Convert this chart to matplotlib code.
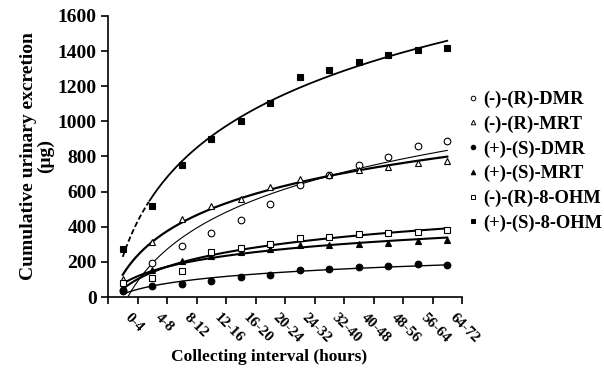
import numpy as np
import matplotlib
matplotlib.use("Agg")
import matplotlib.pyplot as plt
from matplotlib.lines import Line2D

plt.rcParams['font.family'] = ['Liberation Serif', 'DejaVu Serif']
plt.rcParams['font.weight'] = 'bold'

# collecting intervals (hours)
intervals = ['0-4', '4-8', '8-12', '12-16', '16-20', '20-24',
             '24-32', '32-40', '40-48', '48-56', '56-64', '64-72']

# cumulative urinary excretion (ug)
r_dmr = [40, 192, 292, 363, 438, 530, 638, 695, 751, 799, 862, 888]
r_mrt = [102, 315, 444, 516, 560, 626, 670, 695, 723, 742, 762, 775]
s_dmr = [35, 64, 74, 91, 114, 125, 154, 161, 171, 177, 187, 183]
s_mrt = [50, 154, 205, 235, 258, 271, 296, 298, 303, 310, 318, 322]
r_ohm = [78, 106, 150, 254, 280, 302, 334, 341, 356, 365, 371, 383]
s_ohm = [275, 520, 750, 900, 1000, 1105, 1250, 1295, 1340, 1378, 1406, 1420]

series = [
    ('(-)-(R)-DMR', r_dmr, 'o', 'white', 0.8),
    ('(-)-(R)-MRT', r_mrt, '^', 'white', 1.6),
    ('(+)-(S)-DMR', s_dmr, 'o', 'black', 1.0),
    ('(+)-(S)-MRT', s_mrt, '^', 'black', 1.5),
    ('(-)-(R)-8-OHM', r_ohm, 's', 'white', 1.5),
    ('(+)-(S)-8-OHM', s_ohm, 's', 'black', 1.3),
]

fig = plt.figure(figsize=(6.04, 3.77), dpi=100)
ax = fig.add_axes([108 / 604, 80 / 377, 354 / 604, 281 / 377])

x = np.arange(len(intervals))
idx = x + 1
nn = np.linspace(1, 12, 400)

handles = []
for name, vals, mk, fc, lw in series:
    vals = np.array(vals, dtype=float)
    # logarithmic trendline, like the spreadsheet one
    b, a = np.polyfit(np.log(idx), vals, 1)
    fit = a + b * np.log(nn)
    if name == '(+)-(S)-8-OHM':
        cut = nn <= 1.9
        ax.plot(nn[cut] - 1, fit[cut], color='black', lw=lw, ls=(0, (3, 1.5)))
        ax.plot(nn[~cut] - 1, fit[~cut], color='black', lw=lw)
    else:
        ax.plot(nn - 1, fit, color='black', lw=lw)
    ms = 5 if mk == 's' else 4.8
    ax.plot(x, vals, ls='none', marker=mk, ms=ms, mfc=fc, mec='black', mew=0.8)
    handles.append(Line2D([], [], ls='none', marker=mk, ms=3.3, mfc=fc,
                          mec='black', mew=0.7, label=name))

ax.set_xlim(-0.5, 11.5)
ax.set_ylim(0, 1600)
ax.set_yticks(np.arange(0, 1601, 200))
ax.set_xticks(np.arange(-0.5, 12, 1))
ax.set_xticklabels([])
ax.set_xticks(x, minor=True)
ax.set_xticklabels(intervals, minor=True, rotation=-45, ha='left', va='bottom',
                   rotation_mode='anchor', fontsize=11)
ax.tick_params(axis='x', which='minor', length=0, pad=16.5)
ax.tick_params(axis='x', which='major', direction='out', length=5, width=1.2)
ax.tick_params(axis='y', direction='out', length=5, width=1.2, labelsize=14, pad=3)

for s in ['top', 'right']:
    ax.spines[s].set_visible(False)
for s in ['left', 'bottom']:
    ax.spines[s].set_linewidth(1.2)

fig.text(269 / 604, 1 - 357 / 377, 'Collecting interval (hours)',
         ha='center', va='center', fontsize=12.5, fontweight='bold')
fig.text(37 / 604, 1 - 156 / 377, 'Cumulative urinary excretion\n(\u03bcg)',
         ha='center', va='center', rotation=90, multialignment='center',
         fontsize=14, fontweight='bold', linespacing=1.0)

fig.legend(handles=handles, loc='upper left', bbox_to_anchor=(468 / 604, 1 - 91 / 377),
           frameon=False, fontsize=13.3, handlelength=0.5, handletextpad=0.3,
           labelspacing=0.4, borderaxespad=0, borderpad=0)

fig.savefig('out.png', dpi=100)
